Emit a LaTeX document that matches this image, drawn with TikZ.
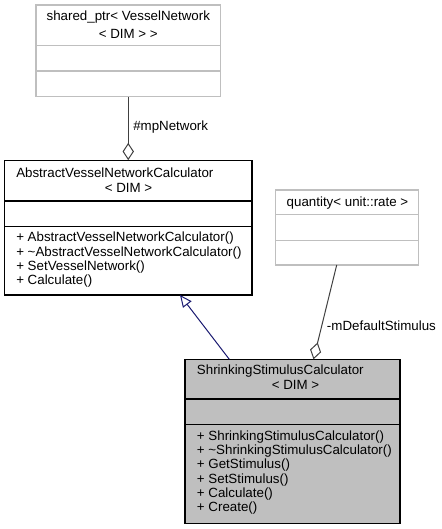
\documentclass[tikz,border=0pt]{standalone}
\usepackage{fontspec}
\setmainfont{Liberation Sans}
\usetikzlibrary{arrows.meta,fit}
\definecolor{graybd}{HTML}{BFBFBF}
\definecolor{grayfill}{HTML}{BFBFBF}
\definecolor{navyline}{HTML}{191970}
\definecolor{conn}{HTML}{404040}
\begin{document}
\begin{tikzpicture}[x=0.75pt,y=-0.75pt,
  font=\fontsize{10}{12}\selectfont,
  box/.style={draw=black, line width=0.8pt, inner sep=0pt},
  gbox/.style={draw=graybd, line width=0.8pt, inner sep=0pt},
  sepb/.style={draw=black, line width=0.8pt},
  sepg/.style={draw=graybd, line width=0.8pt},
  txt/.style={inner sep=0pt, text height=7.5pt, text depth=2pt},
  lbl/.style={txt, anchor=west},
  agg/.style={draw=conn, line width=0.75pt, -{Diamond[open, length=13pt, width=8.5pt, line width=0.75pt]}},
  inh/.style={draw=navyline, line width=0.75pt, -{Triangle[open, length=9pt, width=8pt, line width=0.75pt]}}
]
\useasboundingbox (0,0) rectangle (442,529);

% shared_ptr box
\node[gbox, fit={(36,5) (220.5,96.5)}] (A) {};
\draw[sepg] (36,45.7) -- (220.5,45.7);
\draw[sepg] (36,71) -- (220.5,71);
\node[txt] (a1) at (128.3,17.3) {shared\_ptr< VesselNetwork};
\node[txt] (a2) at (128.3,35) {< DIM > >};

% AbstractVesselNetworkCalculator box
\node[box, fit={(4.3,160.7) (252,295)}] (B) {};
\draw[sepb] (4.3,201) -- (252,201);
\draw[sepb] (4.3,226.7) -- (252,226.7);
\node[lbl] (b1) at (16,174) {AbstractVesselNetworkCalculator};
\node[txt] (b2) at (128.5,188.5) {< DIM >};
\node[lbl] (b3) at (16,238.3) {+ AbstractVesselNetworkCalculator()};
\node[lbl] (b4) at (16,252.5) {+ \textasciitilde AbstractVesselNetworkCalculator()};
\node[lbl] (b5) at (16,266.7) {+ SetVesselNetwork()};
\node[lbl] (b6) at (16,281) {+ Calculate()};

% quantity box
\node[gbox, fit={(275.7,190) (418.3,265)}] (C) {};
\draw[sepg] (275.7,214.3) -- (418.3,214.3);
\draw[sepg] (275.7,240.7) -- (418.3,240.7);
\node[txt] (c1) at (347.5,202.7) {quantity< unit::rate >};

% ShrinkingStimulusCalculator box
\node[box, fill=grayfill, fit={(185,359.3) (400,523.3)}] (D) {};
\draw[sepb] (185,399) -- (400,399);
\draw[sepb] (185,424.3) -- (400,424.3);
\node[lbl] (d1) at (196.7,370.7) {ShrinkingStimulusCalculator};
\node[txt] (d2) at (295.5,385.7) {< DIM >};
\node[lbl] (d3) at (196.7,436.7) {+ ShrinkingStimulusCalculator()};
\node[lbl] (d4) at (196.7,451) {+ \textasciitilde ShrinkingStimulusCalculator()};
\node[lbl] (d5) at (196.7,465.3) {+ GetStimulus()};
\node[lbl] (d6) at (196.7,479.5) {+ SetStimulus()};
\node[lbl] (d7) at (196.7,494) {+ Calculate()};
\node[lbl] (d8) at (196.7,508.3) {+ Create()};

% connectors
\draw[agg] (A.south) -- (A.south |- B.north);
\node[lbl] (l1) at (133,126.7) {\#mpNetwork};

\coordinate (dtop) at (229.3,359.3);
\coordinate (btip) at (180,295);
\draw[inh] (dtop) -- (btip);

\coordinate (cbot) at (336.7,265);
\coordinate (dtop2) at (313.5,359.3);
\draw[agg] (cbot) -- (dtop2);
\node[lbl] (l2) at (326.7,326.7) {-mDefaultStimulus};
\end{tikzpicture}
\end{document}
